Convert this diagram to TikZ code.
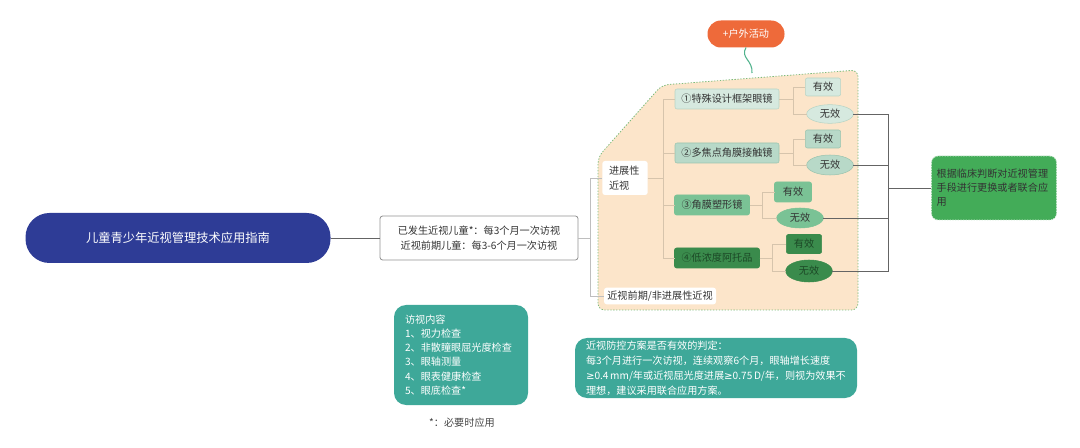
\documentclass[tikz,border=0pt]{standalone}
\usepackage{fontspec}
\setmainfont{Noto Sans CJK SC}
\newfontfamily\symfont{DejaVu Sans}
\usetikzlibrary{shapes.geometric}

\definecolor{titleblue}{RGB}{46,60,150}
\definecolor{outdoororange}{RGB}{238,106,58}
\definecolor{peach}{RGB}{252,229,202}
\definecolor{regionedge}{RGB}{125,188,125}
\definecolor{rowA}{RGB}{214,233,223}
\definecolor{rowAedge}{RGB}{184,212,197}
\definecolor{rowB}{RGB}{184,217,200}
\definecolor{rowBedge}{RGB}{155,196,175}
\definecolor{rowC}{RGB}{122,194,149}
\definecolor{rowD}{RGB}{58,139,76}
\definecolor{rowDtext}{RGB}{28,72,38}
\definecolor{advicegreen}{RGB}{67,172,88}
\definecolor{tealbox}{RGB}{62,168,153}
\definecolor{tanline}{RGB}{214,196,172}
\definecolor{greyline}{RGB}{190,190,190}
\definecolor{darkline}{RGB}{100,100,100}
\definecolor{inktext}{RGB}{51,51,51}
\definecolor{wiggle}{RGB}{80,178,140}

\begin{document}
\begin{tikzpicture}[x=0.75pt,y=-0.75pt]
\tikzset{
  smalltext/.style={font=\fontsize{7.6}{10.8}\selectfont,text=inktext},
  plainbox/.style={smalltext,rectangle,inner sep=0pt,outer sep=0pt},
  treatbox/.style={plainbox,rounded corners=1.5pt,minimum height=15pt},
  resbox/.style={plainbox,rounded corners=1.5pt,minimum width=26.5pt,minimum height=13.5pt},
  resoval/.style={smalltext,ellipse,inner sep=0pt,outer sep=0pt,minimum width=35pt,minimum height=14pt},
  notebox/.style={plainbox,fill=tealbox,text=white,rounded corners=9pt,align=left},
  mainlink/.style={draw=darkline,line width=0.7pt},
  sidelink/.style={draw=greyline,line width=0.6pt},
  innerlink/.style={draw=tanline,line width=0.6pt},
  outlink/.style={draw=darkline,line width=0.7pt}
}
\useasboundingbox (0,0) rectangle (1080,448);

% progressive myopia area
\draw[fill=peach,draw=regionedge,line width=0.6pt,dash pattern=on 1pt off 1.2pt,rounded corners=5pt]
  (598,310) -- (598,157) -- (662,85) -- (858,70) -- (858,310) -- cycle;
\coordinate (c_top) at (752,73);

\node[plainbox,fill=titleblue,text=white,rounded corners=18pt,minimum width=228.75pt,minimum height=37.5pt,
  font=\fontsize{9.2}{11}\selectfont] (n_title) at (178,238) {儿童青少年近视管理技术应用指南};
\node[plainbox,draw=darkline!70,line width=0.6pt,fill=white,rounded corners=2pt,minimum width=148.5pt,
  minimum height=33pt,align=center] (n_visit) at (479,238) {已发生近视儿童*：每3个月一次访视\\近视前期儿童：每3-6个月一次访视};
\node[plainbox,fill=white,rounded corners=2pt,text width=24pt,inner xsep=5pt,minimum height=25.5pt,align=left]
  (n_prog) at (625,178) {进展性\\近视};
\node[plainbox,fill=white,rounded corners=2pt,minimum width=84pt,minimum height=12.5pt] (n_pre) at (660,296) {近视前期/非进展性近视};
\node[plainbox,fill=outdoororange,text=white,rounded corners=10pt,minimum width=57.75pt,minimum height=20.25pt]
  (n_outdoor) at (746,34) {+户外活动};

\node[treatbox,fill=rowA,draw=rowAedge,minimum width=78pt] (n_t1) at (727,99) {①特殊设计框架眼镜};
\node[treatbox,fill=rowB,draw=rowBedge,minimum width=78pt] (n_t2) at (727,153) {②多焦点角膜接触镜};
\node[treatbox,fill=rowC,draw=rowC,minimum width=56.25pt] (n_t3) at (712,205) {③角膜塑形镜};
\node[treatbox,fill=rowD,draw=rowD,text=rowDtext,minimum width=63.75pt] (n_t4) at (717,258) {④低浓度阿托品};

\node[resbox,fill=rowA,draw=rowAedge] (n_y1) at (823,87) {有效};
\node[resoval,fill=rowA,draw=rowAedge] (n_n1) at (830,114) {无效};
\node[resbox,fill=rowB,draw=rowBedge] (n_y2) at (823,139) {有效};
\node[resoval,fill=rowB,draw=rowBedge,minimum height=15pt] (n_n2) at (830,165) {无效};
\node[resbox,fill=rowC,draw=rowC,minimum width=27.75pt,minimum height=15pt] (n_y3) at (793,192) {有效};
\node[resoval,fill=rowC,draw=rowC,minimum height=15pt] (n_n3) at (800,218) {无效};
\node[resbox,fill=rowD,draw=rowD,text=rowDtext,minimum height=14.25pt] (n_y4) at (804,244) {有效};
\node[resoval,fill=rowD,draw=rowD,text=rowDtext,minimum height=16.5pt] (n_n4) at (809,271) {无效};

\node[plainbox,fill=advicegreen,draw=white!75!advicegreen,line width=0.6pt,dash pattern=on 1pt off 1pt,
  rounded corners=5pt,text width=86pt,inner xsep=3.9pt,minimum height=48pt,align=left,
  font=\fontsize{7.6}{10.5}\selectfont] (n_advice) at (994,188) {根据临床判断对近视管理\\手段进行更换或者联合应\\用};

\node[notebox,text width=84pt,inner xsep=8.25pt,minimum height=75pt,font=\fontsize{7.6}{10.65}\selectfont]
  (n_content) at (461,355) {访视内容\\1、视力检查\\2、非散瞳眼屈光度检查\\3、眼轴测量\\4、眼表健康检查\\5、眼底检查*};
\node[smalltext,text=inktext!90] (n_star) at (462,423) {*：必要时应用};
\node[notebox,text width=195pt,inner xsep=8.25pt,inner ysep=2pt,minimum height=42.75pt,font=\fontsize{7.6}{11.25}\selectfont]
  (n_judge) at (716,368) {近视防控方案是否有效的判定：\\每3个月进行一次访视，连续观察6个月，眼轴增长速度\\{\symfont ≥}0.4\,mm/年或近视屈光度进展{\symfont ≥}0.75\,D/年，则视为效果不\\理想，建议采用联合应用方案。};

\coordinate (c_split) at (590,238);
\coordinate (c_trunk) at (663,178);
\coordinate (c_join) at (888,188);

\draw[mainlink] (n_title) -- (n_visit);
\draw[sidelink] (n_visit.east) -- (c_split);
\draw[sidelink] (c_split) |- (n_prog.west);
\draw[sidelink] (c_split) |- (n_pre.west);
\draw[wiggle,line width=0.8pt] (n_outdoor.south) .. controls (740,58) and (753,60) .. (c_top);

\draw[innerlink] (n_prog.east) -- (c_trunk);
\draw[innerlink] (c_trunk) |- (n_t1.west);
\draw[innerlink] (c_trunk) |- (n_t2.west);
\draw[innerlink] (c_trunk) |- (n_t3.west);
\draw[innerlink] (c_trunk) |- (n_t4.west);
\draw[innerlink] (n_t1.east) -- ++(14,0) |- (n_y1.west);
\draw[innerlink] (n_t1.east) -- ++(14,0) |- (n_n1.west);
\draw[innerlink] (n_t2.east) -- ++(14,0) |- (n_y2.west);
\draw[innerlink] (n_t2.east) -- ++(14,0) |- (n_n2.west);
\draw[innerlink] (n_t3.east) -- ++(13,0) |- (n_y3.west);
\draw[innerlink] (n_t3.east) -- ++(13,0) |- (n_n3.west);
\draw[innerlink] (n_t4.east) -- ++(13,0) |- (n_y4.west);
\draw[innerlink] (n_t4.east) -- ++(13,0) |- (n_n4.west);

\draw[outlink] (n_n1.east) -| (c_join);
\draw[outlink] (n_n2.east) -| (c_join);
\draw[outlink] (n_n3.east) -| (c_join);
\draw[outlink] (n_n4.east) -| (c_join);
\draw[outlink] (c_join) -- (n_advice.west);
\end{tikzpicture}
\end{document}
